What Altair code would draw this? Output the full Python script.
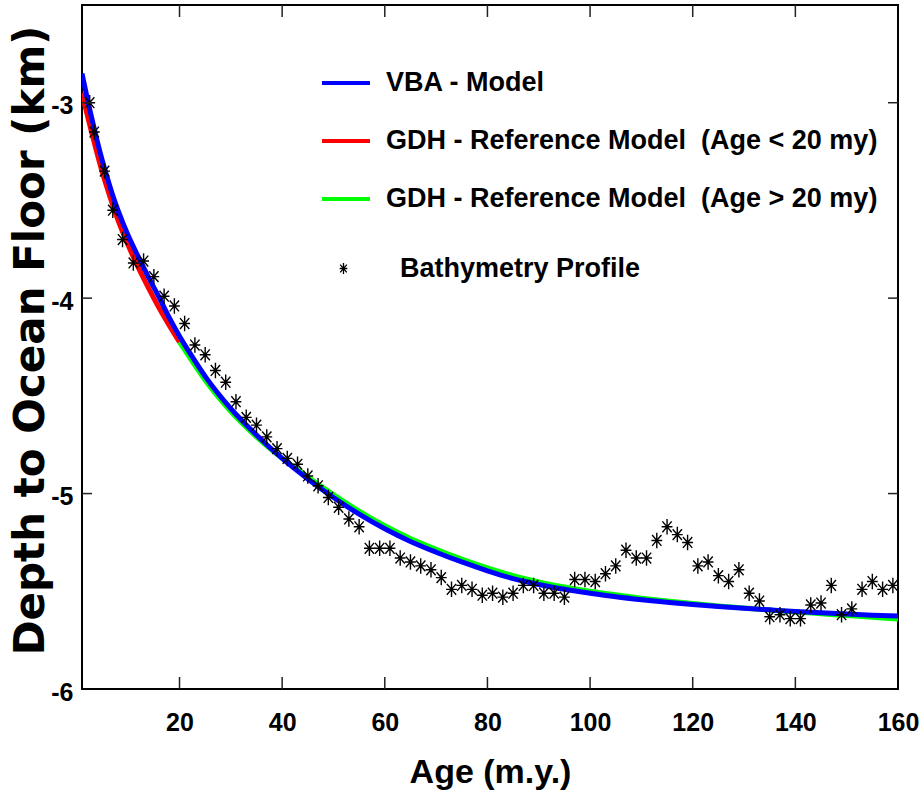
import altair as alt
import pandas as pd

# ---------------- data ----------------
vba_age = [1, 2, 3, 4, 5, 6, 7, 8, 10, 12, 14, 16, 18, 20, 22, 25, 30, 35, 40, 45, 50,
           55, 60, 65, 70, 75, 80, 85, 90, 95, 100, 105, 110, 115, 120, 125, 130,
           135, 140, 145, 150, 155, 160]
vba_depth = [-2.85, -2.975, -3.09, -3.20, -3.30, -3.39, -3.475, -3.55, -3.68, -3.79,
             -3.895, -3.995, -4.10, -4.195, -4.28, -4.40, -4.565, -4.70, -4.82, -4.925,
             -5.02, -5.105, -5.18, -5.245, -5.30, -5.35, -5.395, -5.435, -5.465, -5.49,
             -5.51, -5.528, -5.543, -5.556, -5.568, -5.578, -5.587, -5.595, -5.603,
             -5.61, -5.616, -5.622, -5.627]

gdh_young_age = [1, 2, 3, 4, 5, 6, 7, 8, 10, 12, 14, 16, 18, 20]
gdh_young_depth = [-2.95, -3.06, -3.165, -3.265, -3.36, -3.445, -3.525, -3.60, -3.73,
                   -3.845, -3.95, -4.05, -4.14, -4.225]

gdh_old_age = [20, 22, 25, 30, 35, 40, 45, 50, 55, 60, 65, 70, 75, 80, 85, 90, 95,
               100, 105, 110, 115, 120, 125, 130, 135, 140, 145, 150, 155, 160]
gdh_old_depth = [-4.225, -4.305, -4.42, -4.58, -4.71, -4.82, -4.915, -5.005, -5.09,
                 -5.165, -5.23, -5.285, -5.335, -5.38, -5.42, -5.452, -5.478,
                 -5.50, -5.518, -5.535, -5.55, -5.563, -5.575, -5.586, -5.596,
                 -5.606, -5.615, -5.624, -5.633, -5.642]

bathy_age = [2.5, 3.4, 5.4, 7, 8.9, 11, 13, 15, 17, 19, 21, 23, 25, 27, 29, 31, 33,
             35, 37, 39, 41, 43, 45, 47, 49, 51, 53, 55, 57, 59, 61, 63, 65, 67, 69,
             71, 73, 75, 77, 79, 81, 83, 85, 87, 89, 91, 93, 95, 97, 99, 101, 103,
             105, 107, 109, 111, 113, 115, 117, 119, 121, 123, 125, 127, 129, 131,
             133, 135, 137, 139, 141, 143, 145, 147, 149, 151, 153, 155, 157, 159]
bathy_depth = [-3.00, -3.15, -3.35, -3.55, -3.70, -3.82, -3.81, -3.89, -3.99, -4.04,
               -4.13, -4.24, -4.29, -4.37, -4.43, -4.53, -4.61, -4.65, -4.71, -4.77,
               -4.82, -4.85, -4.91, -4.96, -5.02, -5.07, -5.13, -5.17, -5.28, -5.28,
               -5.28, -5.33, -5.35, -5.37, -5.39, -5.43, -5.49, -5.47, -5.49, -5.52,
               -5.51, -5.53, -5.51, -5.47, -5.47, -5.51, -5.51, -5.53, -5.44, -5.44,
               -5.45, -5.41, -5.37, -5.29, -5.33, -5.33, -5.24, -5.17, -5.21, -5.25,
               -5.37, -5.35, -5.42, -5.45, -5.39, -5.51, -5.55, -5.63, -5.62, -5.64,
               -5.64, -5.57, -5.56, -5.47, -5.62, -5.59, -5.49, -5.45, -5.49, -5.47]

x_tick_values = [20, 40, 60, 80, 100, 120, 140, 160]
y_tick_values = [-6, -5, -4, -3]

series_names = ["VBA - Model",
                "GDH - Reference Model\u00a0\u00a0(Age < 20 my)",
                "GDH - Reference Model\u00a0\u00a0(Age > 20 my)"]
series_colors = ["#0000ff", "#ff0000", "#00ff00"]
points_name = "Bathymetry Profile"

# ---------------- tables ----------------
blue_df = pd.DataFrame({"age": vba_age, "depth": vba_depth, "series": series_names[0]})
red_df = pd.DataFrame({"age": gdh_young_age, "depth": gdh_young_depth, "series": series_names[1]})
green_df = pd.DataFrame({"age": gdh_old_age, "depth": gdh_old_depth, "series": series_names[2]})
pts_df = pd.DataFrame({"age": bathy_age, "depth": bathy_depth, "kind": points_name})
xt_df = pd.DataFrame({"v": x_tick_values[:-1]})
yt_df = pd.DataFrame({"v": y_tick_values[1:]})

W, H = 816, 684
SANS = "Liberation Sans, Arial, sans-serif"

x_scale = alt.Scale(domain=[1, 160], nice=False, zero=False)
y_scale = alt.Scale(domain=[-6, -2.5], nice=False, zero=False)

x_enc = alt.X("age:Q", scale=x_scale, axis=alt.Axis(
    values=x_tick_values, ticks=False, tickSize=0, domain=False, grid=False,
    labelFont=SANS, labelFontSize=25, labelFontWeight="bold", labelColor="black",
    labelPadding=21, labelFlush=False,
    title="Age (m.y.)", titleFont=SANS, titleFontSize=34, titleFontWeight="bold",
    titleColor="black", titleBaseline="alphabetic", titleY=93))
y_enc = alt.Y("depth:Q", scale=y_scale, axis=alt.Axis(
    values=y_tick_values, ticks=False, tickSize=0, domain=False, grid=False,
    labelFont=SANS, labelFontSize=25, labelFontWeight="bold", labelColor="black",
    labelPadding=9, labelOffset=3,
    labelExpr="datum.value < 0 ? '-' + abs(datum.value) : '' + datum.value",
    title="Depth to Ocean Floor (km)", titleFont="DejaVu Sans", titleFontSize=42,
    titleFontWeight="bold", titleColor="black", titleAngle=270, titleX=-39,
    titleY=335, titleAlign="center", titleBaseline="alphabetic"))

color_enc = alt.Color("series:N", scale=alt.Scale(domain=series_names, range=series_colors),
                      legend=alt.Legend(title=None, orient="none", legendX=238, legendY=52,
                                        symbolType="stroke", symbolSize=2304,
                                        symbolStrokeWidth=4, labelFont=SANS,
                                        labelFontSize=27, labelFontWeight="bold",
                                        labelColor="black", labelOffset=14,
                                        rowPadding=19, padding=0, labelLimit=800))

star_path = "M0,-1L0,1M-0.7,0L0.7,0M-0.6,-0.7L0.6,0.7M-0.6,0.7L0.6,-0.7"
shape_enc = alt.Shape("kind:N", scale=alt.Scale(domain=[points_name], range=[star_path]),
                      legend=alt.Legend(title=None, orient="none", legendX=248, legendY=250,
                                        symbolSize=120, symbolStrokeColor="black",
                                        symbolStrokeWidth=1.3, labelFont=SANS,
                                        labelFontSize=27, labelFontWeight="bold",
                                        labelColor="black", labelOffset=43,
                                        padding=0, labelLimit=800))


def curve(df):
    return alt.Chart(df).mark_line(strokeWidth=5, interpolate="monotone", clip=True).encode(
        x=x_enc, y=y_enc, color=color_enc)


red = curve(red_df)
green = curve(green_df)
blue = curve(blue_df)

points = alt.Chart(pts_df).mark_point(filled=False, size=240, strokeWidth=1.4,
                                      color="black", opacity=1).encode(
    x=alt.X("age:Q", scale=x_scale), y=alt.Y("depth:Q", scale=y_scale), shape=shape_enc)

tick_style = dict(color="#222222", strokeWidth=1.5)
xt_bottom = alt.Chart(xt_df).mark_rule(**tick_style).encode(
    x=alt.X("v:Q", scale=x_scale), y=alt.value(H), y2=alt.value(H - 12))
xt_top = alt.Chart(xt_df).mark_rule(**tick_style).encode(
    x=alt.X("v:Q", scale=x_scale), y=alt.value(0), y2=alt.value(12))
yt_left = alt.Chart(yt_df).mark_rule(**tick_style).encode(
    y=alt.Y("v:Q", scale=y_scale), x=alt.value(0), x2=alt.value(10))
yt_right = alt.Chart(yt_df).mark_rule(**tick_style).encode(
    y=alt.Y("v:Q", scale=y_scale), x=alt.value(W - 10), x2=alt.value(W))

chart = alt.layer(red, green, blue, points, xt_bottom, xt_top, yt_left, yt_right).properties(
    width=W, height=H,
    autosize=alt.AutoSizeParams(type="none"),
    padding={"left": 82, "top": 5, "right": 25, "bottom": 107},
    background="white",
).configure_view(stroke="black", strokeWidth=2)

chart.save("out.html", embed_options={"renderer": "svg", "actions": False})
